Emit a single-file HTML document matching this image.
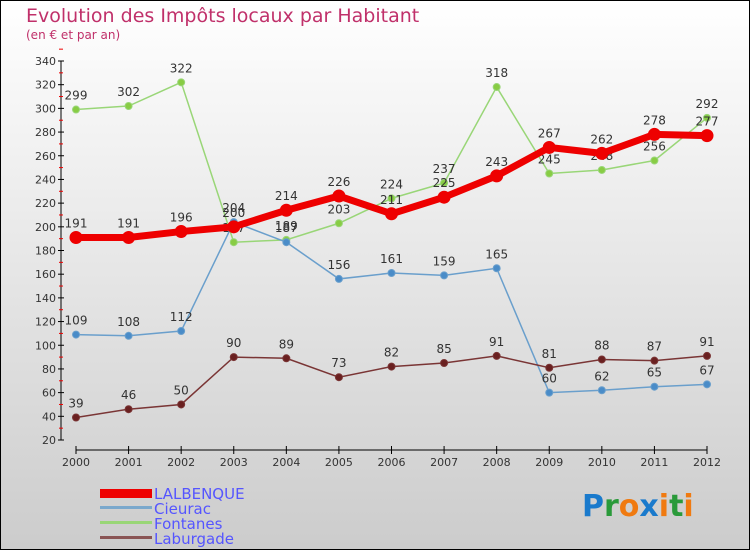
<!DOCTYPE html>
<html><head><meta charset="utf-8"><style>
body{margin:0}
#c{width:750px;height:550px;position:relative;overflow:hidden}
text{font-family:"DejaVu Sans","Liberation Sans",sans-serif}
</style></head><body>
<div id="c">
<svg id="s" width="750" height="550" xmlns="http://www.w3.org/2000/svg">
<defs><linearGradient id="bg" x1="0" y1="0" x2="0" y2="1"><stop offset="0" stop-color="#ffffff"/><stop offset="1" stop-color="#cccccc"/></linearGradient></defs>
<rect x="0.5" y="0.5" width="749" height="549" fill="url(#bg)" stroke="#000"/>
<text x="26" y="22" font-size="19" fill="#c0306a">Evolution des Impôts locaux par Habitant</text>
<text x="26" y="39" font-size="12" fill="#c0306a">(en € et par an)</text>
<g id="axes"></g><g id="series"></g>
<g>
<rect x="100" y="489" width="52" height="9" fill="#ee0000"/>
<text x="154" y="499" font-size="15" fill="#5555ff">LALBENQUE</text>
<rect x="100" y="506" width="52" height="3" fill="#7aa8cc"/>
<text x="154" y="514" font-size="15" fill="#5555ff">Cieurac</text>
<rect x="100" y="521" width="52" height="3" fill="#99d677"/>
<text x="154" y="529" font-size="15" fill="#5555ff">Fontanes</text>
<rect x="100" y="536" width="52" height="3" fill="#8a5555"/>
<text x="154" y="544" font-size="15" fill="#5555ff">Laburgade</text>
</g>
<g font-size="30" font-weight="bold">
<text x="582" y="516"><tspan fill="#1a7acc">P</tspan><tspan fill="#2a9a3a">r</tspan><tspan fill="#f07a10">o</tspan><tspan fill="#1a7acc">x</tspan><tspan fill="#f07a10">i</tspan><tspan fill="#2a9a3a">t</tspan><tspan fill="#f07a10">i</tspan></text>
</g>
</svg></div>
<script>
const years=["2000","2001","2002","2003","2004","2005","2006","2007","2008","2009","2010","2011","2012"];
const yTicks=[20,40,60,80,100,120,140,160,180,200,220,240,260,280,300,320,340];
const lalbenque=[191,191,196,200,214,226,211,225,243,267,262,278,277];
const cieurac=[109,108,112,204,187,156,161,159,165,60,62,65,67];
const fontanes=[299,302,322,187,189,203,224,237,318,245,248,256,292];
const laburgade=[39,46,50,90,89,73,82,85,91,81,88,87,91];
const NS="http://www.w3.org/2000/svg";
const xS=i=>76+i*(707-76)/(years.length-1);
const yS=v=>440-(v-20)*(379/320);
function mk(t,a,p){const e=document.createElementNS(NS,t);for(const k in a)e.setAttribute(k,a[k]);p.appendChild(e);return e;}
const ax=document.getElementById('axes');
const yl=mk('line',{x1:61,y1:yS(340),x2:61,y2:yS(20),stroke:'#000','stroke-width':1},ax);


yTicks.forEach(v=>{
  mk('line',{x1:58,x2:64,y1:yS(v),y2:yS(v),stroke:'#000'},ax);
  mk('line',{x1:59,x2:63,y1:yS(v+10),y2:yS(v+10),stroke:'#e00'},ax);
  const t=mk('text',{x:56,y:yS(v)+4,'font-size':11,fill:'#333','text-anchor':'end'},ax);t.textContent=v;
  
  
});
const xl=mk('line',{x1:76,y1:450,x2:707,y2:450,stroke:'#000'},ax);


years.forEach((y,i)=>{
  mk('line',{x1:xS(i),x2:xS(i),y1:446,y2:454,stroke:'#000'},ax);
  const t=mk('text',{x:xS(i),y:466,'font-size':11,fill:'#333','text-anchor':'middle'},ax);t.textContent=y;
  
  
});
const sg=document.getElementById('series');
function series(name,data,color,w,r,fill){
  const g=mk('g',{},sg);
  
  
  mk('polyline',{points:data.map((v,i)=>xS(i)+','+yS(v)).join(' '),fill:'none',stroke:color,'stroke-width':w},g);
  data.forEach((v,i)=>{
    const c=mk('circle',{cx:xS(i),cy:yS(v),r:r,fill:fill,stroke:color,'stroke-width':1},g);
    
    
    const t=mk('text',{x:xS(i),y:yS(v)-10,'font-size':12,fill:'#333','text-anchor':'middle'},g);t.textContent=v;
    
    
  });
}
series('fontanes',fontanes,'#99d677',1.5,3.5,'#88cc44');
series('cieurac',cieurac,'#6a9fcc',1.5,3.5,'#4a8cc8');
series('laburgade',laburgade,'#7a3535',1.5,3.5,'#6a2020');
series('lalbenque',lalbenque,'#ee0000',7,6,'#ee0000');
</script>
</body></html>
